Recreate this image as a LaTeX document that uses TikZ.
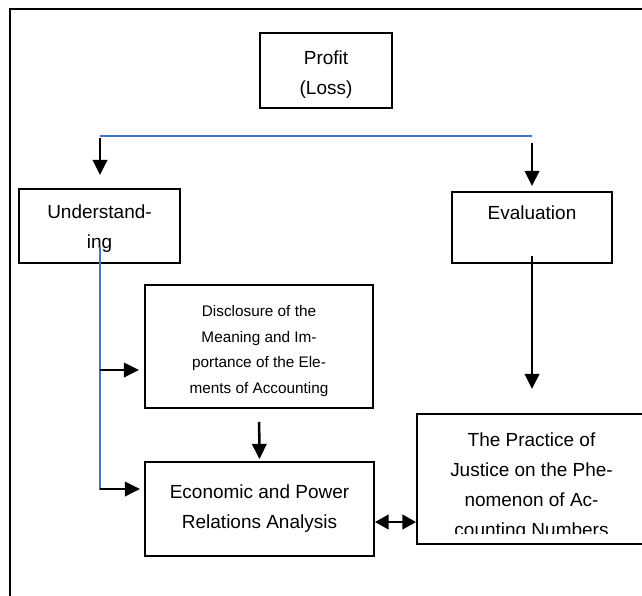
\documentclass[tikz,border=0pt]{standalone}
\usepackage{fontspec}
\setmainfont{Liberation Sans}
\usetikzlibrary{arrows.meta}
\definecolor{linkblue}{RGB}{68,114,196}
\tikzset{
  flowarrow/.style={-{Triangle[length=0.38cm, width=0.36cm]}, line width=1.8pt},
  pairarrow/.style={{Triangle[length=0.34cm, width=0.36cm]}-{Triangle[length=0.34cm, width=0.36cm]}, line width=1.8pt},
  bluelink/.style={draw=linkblue, line width=1pt},
  conceptbox/.style={draw, line width=1.3pt, align=center, inner sep=0pt, font=\fontsize{13.5}{21.3}\selectfont},
  emptybox/.style={draw, line width=1.3pt, inner sep=0pt},
  conceptlabel/.style={align=center, inner sep=0pt, font=\fontsize{13.5}{21.3}\selectfont},
  detaillabel/.style={align=center, inner sep=0pt, font=\fontsize{10.9}{18.1}\selectfont}
}
\begin{document}
\begin{tikzpicture}[x=0.025cm, y=-0.025cm]
  \clip (0,0) rectangle (642,595);
  \fill[white] (0,0) rectangle (642,595);
  % outer frame
  \draw[line width=1.4pt] (10,620) -- (10,9) -- (660,9);
  % boxes
  \node[emptybox, minimum width=3.3cm, minimum height=1.875cm] (profit) at (326,70.5) {};
  \node[emptybox, minimum width=4.025cm, minimum height=1.85cm] (understanding) at (99.5,226) {};
  \node[conceptbox, minimum width=4cm, minimum height=1.775cm] (evaluation) at (532,227.5) {Evaluation\\\mbox{}};
  \node[emptybox, minimum width=5.7cm, minimum height=3.075cm] (disclosure) at (259,346.5) {};
  \node[conceptbox, minimum width=5.725cm, minimum height=2.35cm] (economic) at (259.5,509) {Economic and Power\\Relations Analysis};
  \node[emptybox, minimum width=5.725cm, minimum height=3.25cm] (practice) at (531.5,479) {};
  % box texts, some cut off at the bottom as in the source
  \node[conceptlabel] (profittext) at (326,75) {Profit\\(Loss)};
  \begin{scope}
    \clip (0,0) rectangle (642,252);
    \node[conceptlabel] (understandingtext) at (99.5,229) {Understand-\\ing};
  \end{scope}
  \begin{scope}
    \clip (0,0) rectangle (642,398);
    \node[detaillabel] (disclosuretext) at (259,351) {Disclosure of the\\Meaning and Im-\\portance of the Ele-\\ments of Accounting};
  \end{scope}
  \begin{scope}
    \clip (0,0) rectangle (642,533);
    \node[conceptlabel] (practicetext) at (531.5,487) {The Practice of\\Justice on the Phe-\\nomenon of Ac-\\counting Numbers};
  \end{scope}
  % blue split and trunk
  \coordinate (splitL) at (100,136);
  \coordinate (splitR) at (532,136);
  \coordinate (trunkTop) at (100,247);
  \coordinate (trunkBot) at (100,490);
  \coordinate (branchA) at (100,370);
  \coordinate (branchB) at (100,489);
  \draw[bluelink] (splitL) -- (splitR);
  \draw[bluelink] (trunkTop) -- (trunkBot);
  % arrows
  \draw[flowarrow, shorten <=0.05cm, shorten >=0.325cm] (splitL) -- (splitL |- understanding.north);
  \draw[flowarrow, shorten <=0.175cm, shorten >=0.125cm] (splitR) -- (splitR |- evaluation.north);
  \draw[flowarrow, shorten >=0.125cm] (branchA) -- (branchA -| disclosure.west);
  \draw[flowarrow, shorten >=0.1cm] (branchB) -- (branchB -| economic.west);
  \draw[flowarrow, shorten <=0.325cm, shorten >=0.05cm] (disclosure.south) -- (economic.north);
  \draw[flowarrow, shorten <=-0.2cm, shorten >=0.6cm] (evaluation.south) -- (evaluation.south |- practice.north);
  \draw[pairarrow] (economic.east |- 0,522) -- (practice.west |- 0,522);
\end{tikzpicture}
\end{document}
